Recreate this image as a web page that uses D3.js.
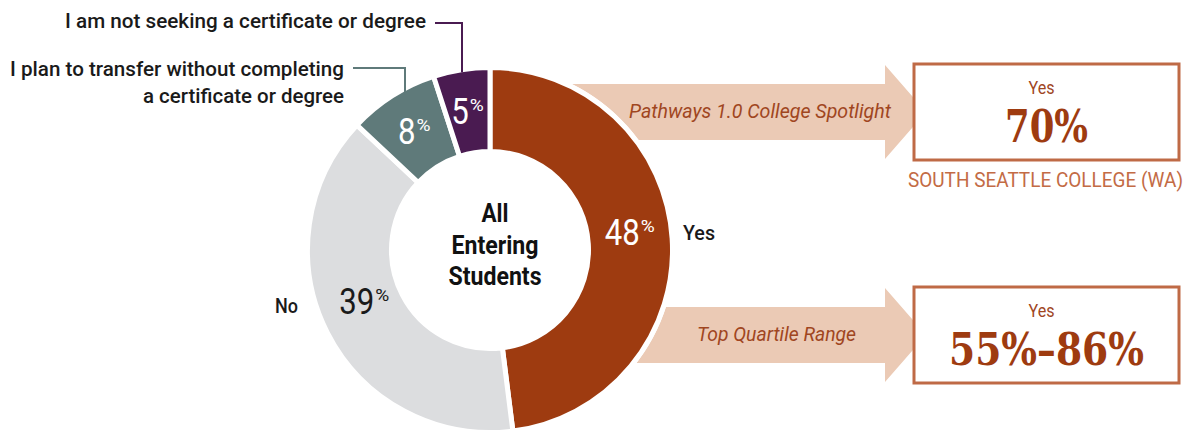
<!DOCTYPE html>
<html>
<head>
<meta charset="utf-8">
<script src="https://cdn.jsdelivr.net/npm/d3@7"></script>
<style>
  body { margin: 0; background: #fff; }
  svg { font-family: Roboto, "Liberation Sans", sans-serif; }
</style>
</head>
<body>
<svg width="1186" height="431"></svg>
<script>
// slices of the donut, clockwise from 12 o'clock
var sliceNames = ["Yes", "No", "I plan to transfer without completing a certificate or degree", "I am not seeking a certificate or degree"];
var sliceValues = [48, 39, 8, 5];
var centerLines = ["All", "Entering", "Students"];

// comparison arrows on the right
var compareNames = ["Pathways 1.0 College Spotlight", "Top Quartile Range"];
var compareAnswers = ["Yes", "Yes"];
var compareValues = ["70%", "55%\u201386%"];
var compareNotes = ["SOUTH SEATTLE COLLEGE (WA)", ""];

var color = ["#9e3b10", "#dcdddf", "#5f7a7a", "#4a1b51"];
var labelFill = ["#fff", "#1a1a1a", "#fff", "#fff"];
var labelDy = [-9, -13, 0, 0];

var svg = d3.select("svg"),
    width = +svg.attr("width"),
    height = +svg.attr("height");

var cx = 490, cy = 250, rOuter = 180, rInner = 101;

function txt(parent, x, y, s, size, w, anchor) {
  return parent.append("text")
      .attr("x", x).attr("y", y)
      .attr("font-size", size)
      .attr("text-anchor", anchor || "start")
      .attr("textLength", w)
      .attr("lengthAdjust", "spacingAndGlyphs")
      .text(s);
}

// ---- arrows + boxes ----
var arrowY = [112, 335];
var arrowTextEnd = [891, 856];
var tailX = 545, headX = 885, tipX = 926, bodyH = 28, headH = 47;
var boxL = 914, boxR = 1179;

var arrows = svg.append("g").attr("class", "arrows");
compareNames.forEach(function(name, i) {
  var y = arrowY[i];
  var pts = [[tailX, y - bodyH], [headX, y - bodyH], [headX, y - headH], [tipX, y],
             [headX, y + headH], [headX, y + bodyH], [tailX, y + bodyH]];
  arrows.append("path")
      .attr("d", d3.line()(pts) + "Z")
      .attr("fill", "#ebcab5");

  txt(arrows, arrowTextEnd[i], y + 6, name, 20, i == 0 ? 262 : 159, "end")
      .attr("font-style", "italic")
      .attr("fill", "#a0461f");

  arrows.append("rect")
      .attr("x", boxL).attr("y", y - 48)
      .attr("width", boxR - boxL).attr("height", 96)
      .attr("fill", "#fff")
      .attr("stroke", "#bf6a46")
      .attr("stroke-width", 3);

  var mid = (boxL + boxR) / 2;
  txt(arrows, mid - 5, y - 18, compareAnswers[i], 18, 26, "middle")
      .attr("fill", "#a0461f");

  txt(arrows, mid, y + 30, compareValues[i], 44, i == 0 ? 83 : 195, "middle")
      .style("font-family", "'DejaVu Serif', 'Liberation Serif', serif")
      .attr("font-weight", "bold")
      .attr("fill", "#9e3b10");

  if (compareNotes[i])
    txt(arrows, mid - 1, y + 75, compareNotes[i], 21, 275, "middle")
        .attr("fill", "#c36b45");
});

// ---- donut ----
var pie = d3.pie().sort(null).value(function(d) { return d; });
var arcs = pie(sliceValues);

var arc = d3.arc().innerRadius(rInner - 2.5).outerRadius(rOuter + 2.5);
var labelArc = d3.arc().innerRadius(rInner).outerRadius(rOuter);

var donut = svg.append("g").attr("transform", "translate(" + cx + "," + cy + ")");

// white halo cutting the arrows
donut.append("circle").attr("r", rOuter + 5).attr("fill", "#fff");

donut.selectAll("path.slice")
    .data(arcs)
    .enter().append("path")
      .attr("class", "slice")
      .attr("d", arc)
      .attr("fill", function(d, i) { return color[i]; })
      .attr("stroke", "#fff")
      .attr("stroke-width", 5);

// percentage labels
arcs.forEach(function(d, i) {
  var c = labelArc.centroid(d);
  var s = String(sliceValues[i]);
  var numW = 17.5 * s.length, pctW = 14;
  var x0 = c[0] - (numW + 2 + pctW) / 2;
  var ym = c[1] + labelDy[i];
  txt(donut, x0, ym + 13, s, 36, numW).attr("fill", labelFill[i]);
  txt(donut, x0 + numW + 1, ym, "%", 17, pctW).attr("fill", labelFill[i]);
});

// center text
centerLines.forEach(function(s, i) {
  txt(donut, 5, -28 + i * 31.5, s, 25, [27, 87, 93][i], "middle")
      .attr("font-weight", "bold")
      .attr("fill", "#111");
});

// Yes / No beside the ring
var cYes = labelArc.centroid(arcs[0]), cNo = labelArc.centroid(arcs[1]);
txt(donut, rOuter + 13, cYes[1] - 1, sliceNames[0], 21, 32)
    .attr("font-weight", 500).attr("fill", "#1a1a1a");
txt(donut, -rOuter - 12, cNo[1] - 1, sliceNames[1], 21, 23, "end")
    .attr("font-weight", 500).attr("fill", "#1a1a1a");

// ---- callout labels for small slices ----
function ringTop(x) { return cy - Math.sqrt(rOuter * rOuter - (x - cx) * (x - cx)); }

var callouts = svg.append("g");
// not seeking (purple)
txt(callouts, 426, 28, sliceNames[3], 21, 361, "end")
    .attr("font-weight", 500).attr("fill", "#1a1a1a");
callouts.append("path")
    .attr("d", d3.line()([[435, 23], [462, 23], [462, ringTop(462)]]))
    .attr("fill", "none").attr("stroke", color[3]).attr("stroke-width", 2);

// transfer (teal), two lines
var parts = ["I plan to transfer without completing", "a certificate or degree"];
txt(callouts, 344, 76, parts[0], 21, 334, "end")
    .attr("font-weight", 500).attr("fill", "#1a1a1a");
txt(callouts, 344, 103, parts[1], 21, 201, "end")
    .attr("font-weight", 500).attr("fill", "#1a1a1a");
callouts.append("path")
    .attr("d", d3.line()([[353, 68], [405, 68], [405, ringTop(405) + 3]]))
    .attr("fill", "none").attr("stroke", color[2]).attr("stroke-width", 2);
</script>
</body>
</html>
